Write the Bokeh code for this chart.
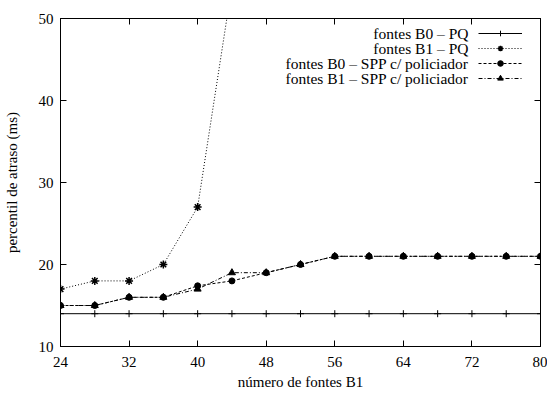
from bokeh.plotting import figure
from bokeh.models import (Range1d, LinearAxis, FixedTicker, Legend, LegendItem,
                          CustomLabelingPolicy, Label)
from bokeh.embed import file_html
from bokeh.resources import INLINE

# ---- data ----
x_all = [24, 28, 32, 36, 40, 44, 48, 52, 56, 60, 64, 68, 72, 76, 80]
b0_pq = [14, 14, 14, 14, 14, 14, 14, 14, 14, 14, 14, 14, 14, 14, 14]
x_b1_pq = [24, 28, 32, 36, 40, 44]
b1_pq = [17, 18, 18, 20, 27, 54]
b0_spp = [15, 15, 16, 16, 17.4, 18, 19, 20, 21, 21, 21, 21, 21, 21, 21]
b1_spp = [15, 15, 16, 16, 17, 19, 19, 20, 21, 21, 21, 21, 21, 21, 21]
labels = ["fontes B0 \u2013 PQ", "fontes B1 \u2013 PQ",
          "fontes B0 \u2013 SPP c/ policiador", "fontes B1 \u2013 SPP c/ policiador"]
x_ticks = [24, 32, 40, 48, 56, 64, 72, 80]
y_ticks = [10, 20, 30, 40, 50]

FONT = "Liberation Serif"
W, H = 547, 394
ML, MR, MT, MB = 59, 7, 18, 48

p = figure(width=W, height=H, output_backend="svg", toolbar_location=None,
           x_range=Range1d(24, 80), y_range=Range1d(10, 50),
           min_border_left=ML, min_border_right=MR, min_border_top=MT, min_border_bottom=MB)
p.xgrid.visible = False
p.ygrid.visible = False
p.outline_line_color = "black"
p.background_fill_color = "white"
p.border_fill_color = "white"

for ax, ticks in ((p.xaxis[0], x_ticks), (p.yaxis[0], y_ticks)):
    ax.ticker = FixedTicker(ticks=ticks)
    ax.major_tick_in = 6
    ax.major_tick_out = 0
    ax.minor_tick_in = 0
    ax.minor_tick_out = 0
    ax.axis_line_color = "black"
    ax.major_tick_line_color = "black"
    ax.major_label_text_font = FONT
    ax.major_label_text_font_size = "15px"
    ax.major_label_text_color = "black"
    ax.axis_label_text_font = FONT
    ax.axis_label_text_font_size = "15px"
    ax.axis_label_text_font_style = "normal"
    ax.axis_label_text_color = "black"

p.xaxis.axis_label = "número de fontes B1"
p.yaxis.axis_label = "percentil de atraso (ms)"
p.xaxis.major_label_standoff = 10
p.xaxis.axis_label_standoff = 4
p.yaxis.major_label_standoff = 7
p.yaxis.axis_label_standoff = 16

hide_all = CustomLabelingPolicy(code="""
    for (const i of indices) { indices.unset(i) }
    return indices
""")
for loc, ticks in (("right", y_ticks), ("above", x_ticks)):
    ax = LinearAxis(ticker=FixedTicker(ticks=ticks), major_tick_in=6, major_tick_out=0,
                    minor_tick_in=0, minor_tick_out=0, major_label_text_font_size="1px",
                    major_label_policy=hide_all,
                    major_label_standoff=0, axis_line_color="black",
                    major_tick_line_color="black")
    p.add_layout(ax, loc)

# ---- series ----
l1 = p.line(x_all, b0_pq, line_color="black", line_width=1)
m1 = p.scatter(x_all, b0_pq, marker="cross", size=7, line_color="black", line_width=1)
l2 = p.line(x_b1_pq, b1_pq, line_color="black", line_width=1, line_dash="1 2")
m2 = p.scatter(x_b1_pq, b1_pq, marker="asterisk", size=8, line_color="black", line_width=1.5)
l3 = p.line(x_all, b0_spp, line_color="black", line_width=1, line_dash="3 2")
m3 = p.scatter(x_all, b0_spp, marker="circle", size=6, line_color="black", fill_color="black")
l4 = p.line(x_all, b1_spp, line_color="black", line_width=1, line_dash="4 2 1 2")
m4 = p.scatter(x_all, b1_spp, marker="triangle", size=7, line_color="black", fill_color="black")

# legend samples (text drawn to their left as labels, gnuplot style)
ROW_TOP = 25.7   # page y of legend top (layout)
legend = Legend(items=[LegendItem(label=" ", renderers=rs)
                       for rs in ([l1, m1], [l2, m2], [l3, m3], [l4, m4])],
                location=(418, (H - MB) - ROW_TOP - 59), margin=0, padding=0, spacing=1,
                glyph_width=44, glyph_height=14, label_height=14, label_width=0,
                label_standoff=0, label_text_font=FONT, label_text_font_size="10px",
                border_line_color=None, background_fill_alpha=0)
p.add_layout(legend, "center")

for i, t in enumerate(labels):
    cy = ROW_TOP + 7 + 15 * i
    p.add_layout(Label(x=408, y=(H - MB) - cy, x_units="screen", y_units="screen",
                       text=t, text_align="right", text_baseline="middle",
                       text_font=FONT, text_font_size="15.5px", text_color="black"))

open("out.html", "w").write(file_html(p, INLINE))
